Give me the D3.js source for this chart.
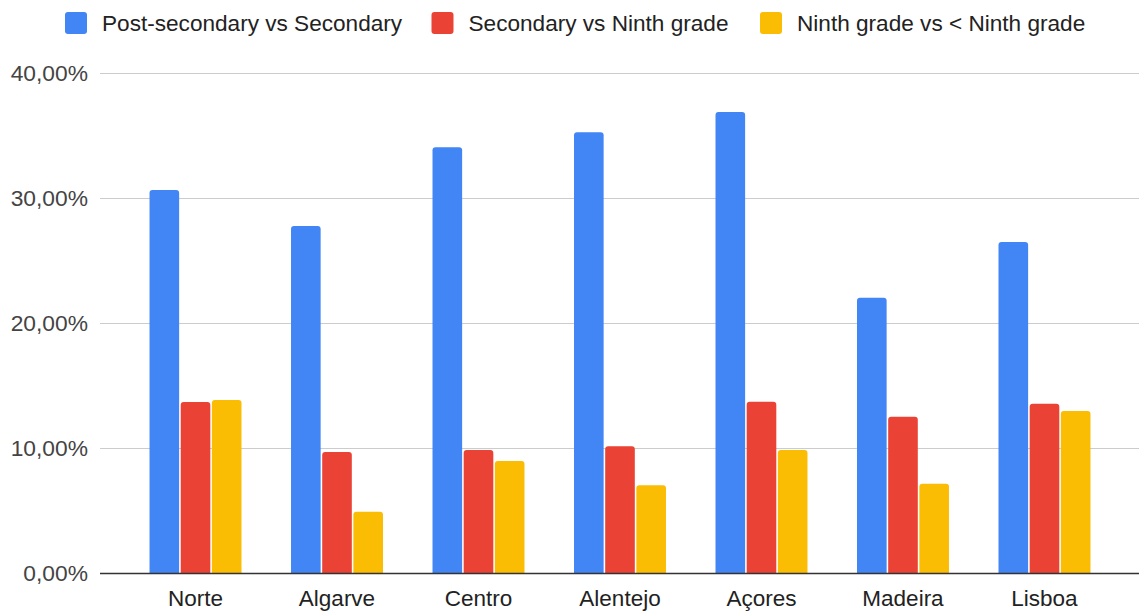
<!DOCTYPE html>
<html>
<head>
<meta charset="utf-8">
<script src="https://cdn.jsdelivr.net/npm/d3@7"></script>
<style>
  html, body { margin: 0; padding: 0; background: #fff; }
  svg { display: block; font-family: "Liberation Sans", Arial, sans-serif; }
</style>
</head>
<body>
<svg id="chart" width="1139" height="615"></svg>
<script>
const categories = ["Norte", "Algarve", "Centro", "Alentejo", "Açores", "Madeira", "Lisboa"];
const seriesNames = ["Post-secondary vs Secondary", "Secondary vs Ninth grade", "Ninth grade vs < Ninth grade"];
const postSecondaryVsSecondary = [30.68, 27.8, 34.1, 35.3, 36.92, 22.06, 26.52];
const secondaryVsNinth = [13.72, 9.72, 9.88, 10.18, 13.74, 12.54, 13.58];
const ninthVsBelowNinth = [13.88, 4.94, 9.0, 7.06, 9.88, 7.18, 13.0];
const seriesColors = ["#4285F4", "#EA4335", "#FBBC04"];
const yTicks = [0, 10, 20, 30, 40];

const seriesValues = [postSecondaryVsSecondary, secondaryVsNinth, ninthVsBelowNinth];

const svg = d3.select("#chart");
const plotLeft = 100, plotRight = 1140, plotTop = 73.5, plotBottom = 573.5;

const x0 = d3.scaleBand().domain(categories).range([plotLeft, plotRight]).paddingInner(0.35).paddingOuter(0.35);
const x1 = d3.scaleBand().domain(d3.range(seriesNames.length)).range([0, x0.bandwidth()]).paddingInner(0.05).paddingOuter(0);
const y = d3.scaleLinear().domain([0, 40]).range([plotBottom, plotTop]);

const fmt = v => d3.format(".2f")(v).replace(".", ",") + "%";

// gridlines
svg.append("g").selectAll("line").data(yTicks.filter(t => t !== 0)).join("line")
  .attr("x1", plotLeft).attr("x2", plotRight)
  .attr("y1", d => y(d)).attr("y2", d => y(d))
  .attr("stroke", "#cccccc").attr("stroke-width", 1.2);

// y tick labels
svg.append("g").selectAll("text").data(yTicks).join("text")
  .attr("x", 88).attr("y", d => y(d)).attr("dy", "0.35em")
  .attr("text-anchor", "end").attr("font-size", 22.8).attr("fill", "#444")
  .text(fmt);

// bars
function barPath(x, w, yTop, yBot, r) {
  r = Math.min(r, (yBot - yTop) / 2, w / 2);
  return `M${x},${yBot}V${yTop + r}Q${x},${yTop} ${x + r},${yTop}H${x + w - r}Q${x + w},${yTop} ${x + w},${yTop + r}V${yBot}Z`;
}
const groups = svg.append("g").selectAll("g").data(categories).join("g")
  .attr("transform", d => `translate(${x0(d)},0)`);
groups.selectAll("path").data((c, ci) => seriesValues.map((vals, si) => ({ si, v: vals[ci] }))).join("path")
  .attr("d", d => barPath(x1(d.si), x1.bandwidth(), y(d.v), y(0), 3))
  .attr("fill", d => seriesColors[d.si]);

// baseline
svg.append("line").attr("x1", plotLeft).attr("x2", plotRight)
  .attr("y1", plotBottom).attr("y2", plotBottom)
  .attr("stroke", "#333").attr("stroke-width", 1.5);

// x labels
svg.append("g").selectAll("text").data(categories).join("text")
  .attr("x", d => x0(d) + x0.bandwidth() / 2).attr("y", 606)
  .attr("text-anchor", "middle").attr("font-size", 22.5).attr("fill", "#222")
  .text(d => d);

// legend
const legendX = [65, 431.5, 760];
const leg = svg.append("g").selectAll("g").data(seriesNames).join("g")
  .attr("transform", (d, i) => `translate(${legendX[i]},12)`);
leg.append("rect").attr("width", 22).attr("height", 22).attr("rx", 3)
  .attr("fill", (d, i) => seriesColors[i]);
leg.append("text").attr("x", 37).attr("y", 18.5)
  .attr("font-size", 22.6).attr("fill", "#222").text(d => d);
</script>
</body>
</html>
